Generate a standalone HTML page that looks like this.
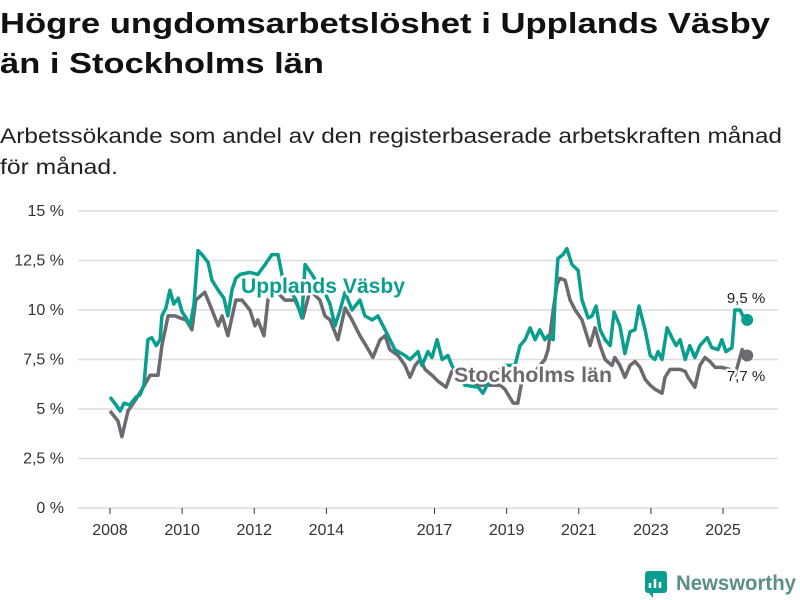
<!DOCTYPE html>
<html><head><meta charset="utf-8"><style>
html,body{margin:0;padding:0;background:#fff;}
svg{display:block;font-family:"Liberation Sans","DejaVu Sans",sans-serif;}
.lbl{paint-order:stroke;stroke:#fff;stroke-width:5px;stroke-linejoin:round;}
</style></head><body>
<svg id="chart" width="800" height="600" viewBox="0 0 800 600" xmlns="http://www.w3.org/2000/svg">
<text x="0" y="33" font-size="29" font-weight="bold" fill="#111" textLength="770" lengthAdjust="spacingAndGlyphs">Högre ungdomsarbetslöshet i Upplands Väsby</text>
<text x="0" y="73" font-size="29" font-weight="bold" fill="#111" textLength="324" lengthAdjust="spacingAndGlyphs">än i Stockholms län</text>
<text x="0" y="143" font-size="21" fill="#222" textLength="782" lengthAdjust="spacingAndGlyphs">Arbetssökande som andel av den registerbaserade arbetskraften månad</text>
<text x="0" y="174" font-size="21" fill="#222" textLength="118" lengthAdjust="spacingAndGlyphs">för månad.</text>
<g id="grid"></g>
<g id="yticks"></g>
<g id="xticks"></g>
<g id="series"></g>
<g id="labels"></g>
<g>
<rect x="645" y="571" width="22" height="22" rx="3" fill="#0a9e8f"/>
<path d="M650 588 v-5 M655 588 v-9 M660 588 v-6" stroke="#fff" stroke-width="2.5"/>
<path d="M649 593 l4 5 l0 -5z" fill="#0a9e8f"/>
<text x="676" y="590" font-size="21" font-weight="bold" fill="#5a8f8a" textLength="120" lengthAdjust="spacingAndGlyphs">Newsworthy</text>
</g>
</svg>
<script>
const yTicks=[0,2.5,5,7.5,10,12.5,15];
const yTickLabels=["0 %","2,5 %","5 %","7,5 %","10 %","12,5 %","15 %"];
const xTicks=[2008,2010,2012,2014,2017,2019,2021,2023,2025];
const vasbyDates=[2008.00,2008.17,2008.28,2008.39,2008.55,2008.72,2008.83,2008.94,2009.05,2009.16,2009.28,2009.39,2009.44,2009.55,2009.66,2009.77,2009.89,2010.00,2010.11,2010.22,2010.33,2010.44,2010.55,2010.72,2010.83,2011.00,2011.16,2011.27,2011.38,2011.49,2011.61,2011.88,2012.10,2012.30,2012.49,2012.66,2012.80,2012.99,2013.16,2013.32,2013.41,2013.60,2013.77,2013.93,2014.10,2014.24,2014.38,2014.52,2014.71,2014.93,2015.07,2015.27,2015.43,2015.63,2015.90,2016.18,2016.32,2016.54,2016.65,2016.82,2016.93,2017.07,2017.21,2017.37,2017.48,2017.84,2018.21,2018.34,2018.54,2018.82,2018.95,2019.23,2019.37,2019.51,2019.65,2019.79,2019.92,2020.06,2020.15,2020.29,2020.34,2020.42,2020.56,2020.67,2020.81,2020.98,2021.09,2021.26,2021.37,2021.48,2021.59,2021.73,2021.87,2021.98,2022.14,2022.28,2022.42,2022.56,2022.67,2022.84,2022.98,2023.11,2023.20,2023.31,2023.45,2023.61,2023.70,2023.81,2023.95,2024.08,2024.22,2024.36,2024.56,2024.69,2024.86,2024.97,2025.08,2025.25,2025.33,2025.47,2025.55,2025.67];
const vasbyValues=[5.6,5.2,4.9,5.3,5.2,5.6,5.7,6.2,8.5,8.6,8.2,8.5,9.7,10.1,11.0,10.3,10.6,9.9,9.6,9.2,10.3,13.0,12.8,12.4,11.5,11.0,10.6,9.7,11.0,11.6,11.8,11.9,11.8,12.3,12.8,12.8,11.5,11.0,10.5,9.6,12.3,11.8,11.3,11.0,10.3,9.2,10.0,10.9,10.0,10.5,9.7,9.5,9.7,9.0,8.0,7.7,7.5,7.9,7.2,7.9,7.6,8.5,7.5,7.7,7.2,6.2,6.1,5.8,6.5,7.0,7.2,7.2,8.2,8.5,9.1,8.5,9.0,8.5,8.7,8.5,10.5,12.6,12.8,13.1,12.3,12.0,10.5,9.6,9.7,10.2,9.0,8.5,8.2,9.9,9.2,7.8,8.9,9.0,10.2,9.0,7.7,7.5,7.9,7.5,9.1,8.5,8.2,8.5,7.5,8.2,7.6,8.2,8.6,8.1,8.0,8.5,7.9,8.1,10.0,10.0,9.7,9.5];
const stockholmDates=[2008.00,2008.22,2008.33,2008.50,2008.72,2008.89,2009.11,2009.33,2009.44,2009.61,2009.80,2009.94,2010.11,2010.27,2010.38,2010.63,2010.83,2011.00,2011.11,2011.27,2011.49,2011.66,2011.88,2012.02,2012.10,2012.27,2012.38,2012.58,2012.85,2013.13,2013.35,2013.55,2013.82,2013.96,2014.10,2014.32,2014.52,2014.71,2014.93,2015.10,2015.29,2015.49,2015.63,2015.76,2015.99,2016.18,2016.32,2016.46,2016.60,2016.74,2016.93,2017.10,2017.32,2017.48,2017.84,2018.21,2018.54,2018.82,2018.95,2019.18,2019.31,2019.43,2019.79,2020.06,2020.15,2020.29,2020.40,2020.48,2020.62,2020.76,2020.90,2021.09,2021.31,2021.45,2021.59,2021.73,2021.92,2022.00,2022.14,2022.28,2022.42,2022.56,2022.70,2022.84,2022.98,2023.11,2023.31,2023.39,2023.53,2023.81,2023.95,2024.03,2024.22,2024.36,2024.50,2024.64,2024.78,2024.97,2025.19,2025.33,2025.53,2025.67];
const stockholmValues=[4.9,4.4,3.6,4.9,5.5,6.0,6.7,6.7,8.2,9.7,9.7,9.6,9.5,9.0,10.5,10.9,10.0,9.2,9.7,8.7,10.5,10.5,10.0,9.2,9.5,8.7,10.5,11.0,10.5,10.5,9.6,11.0,10.5,9.7,9.5,8.5,10.1,9.5,8.7,8.2,7.6,8.5,8.7,8.0,7.7,7.2,6.6,7.2,7.5,7.0,6.7,6.4,6.1,6.9,6.6,6.2,6.2,6.2,6.0,5.3,5.3,6.5,6.9,7.5,8.0,10.0,11.3,11.6,11.5,10.5,10.0,9.5,8.2,9.1,8.2,7.5,7.2,7.6,7.2,6.6,7.2,7.4,7.1,6.5,6.2,6.0,5.8,6.6,7.0,7.0,6.9,6.6,6.1,7.2,7.6,7.4,7.1,7.1,7.0,6.7,8.0,7.7];

const NS='http://www.w3.org/2000/svg';
const X0=110,PXY=36.06,Y0=508,PXV=19.8;
function xs(t){return X0+(t-2008)*PXY;}
function ys(v){return Y0-v*PXV;}
function mk(tag,attrs,parent){const e=document.createElementNS(NS,tag);for(const k in attrs)e.setAttribute(k,attrs[k]);parent.appendChild(e);return e;}
const grid=document.getElementById('grid'),yt=document.getElementById('yticks'),xt=document.getElementById('xticks'),ser=document.getElementById('series'),lab=document.getElementById('labels');
yTicks.forEach((v,i)=>{
  const l=mk('line',{x1:78,x2:778,y1:ys(v),y2:ys(v),stroke:'#dcdcdc','stroke-width':1.5},grid);
  
  
  const t=mk('text',{x:64,y:ys(v)+5,'text-anchor':'end','font-size':16,fill:'#333'},yt);
  
  
  t.textContent=yTickLabels[i];
});
xTicks.forEach(yr=>{
  const tk=mk('line',{x1:xs(yr),x2:xs(yr),y1:Y0,y2:Y0+6,stroke:'#333','stroke-width':1},xt);
  
  
  const t=mk('text',{x:xs(yr),y:Y0+27,'text-anchor':'middle','font-size':16,fill:'#333'},xt);
  
  
  t.textContent=String(yr);
});
function path(d,v){return d.map((t,i)=>(i?'L':'M')+xs(t).toFixed(1)+' '+ys(v[i]).toFixed(1)).join(' ');}
const gp=mk('path',{d:path(stockholmDates,stockholmValues),fill:'none',stroke:'#6b6a70','stroke-width':3.5,'stroke-linejoin':'round'},ser);


const tp=mk('path',{d:path(vasbyDates,vasbyValues),fill:'none',stroke:'#0a9e8f','stroke-width':3.5,'stroke-linejoin':'round'},ser);


const gl=stockholmDates.length-1,tl=vasbyDates.length-1;
const gd=mk('circle',{cx:xs(stockholmDates[gl]),cy:ys(stockholmValues[gl]),r:6,fill:'#6b6a70'},ser);


const td=mk('circle',{cx:xs(vasbyDates[tl]),cy:ys(vasbyValues[tl]),r:6,fill:'#0a9e8f'},ser);


function label(x,y,txt,size,fill,bold,name,anchor,len){
  const t=mk('text',{x:x,y:y,'font-size':size,fill:fill,'font-weight':bold?'bold':'normal','text-anchor':anchor||'start',class:'lbl'},lab);
  if(len){t.setAttribute('textLength',len);t.setAttribute('lengthAdjust','spacingAndGlyphs');}
  
  
  t.textContent=txt;return t;
}
label(241,293,'Upplands Väsby',21,'#0a9e8f',true,'upplands-vasby-label',null,164);
label(454,382,'Stockholms län',21,'#6b6a70',true,'stockholms-lan-label',null,158);
label(746,303,'9,5 %',15,'#222',false,'upplands-vasby-value','middle');
label(746,381,'7,7 %',15,'#222',false,'stockholms-lan-value','middle');
</script>
</body></html>
